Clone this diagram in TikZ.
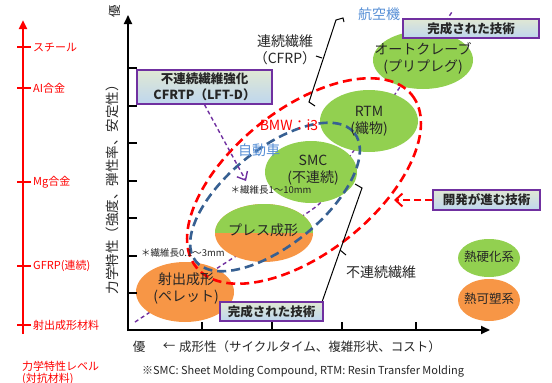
\documentclass[tikz,border=0pt]{standalone}
\usepackage{fontspec}
\setmainfont{Noto Sans CJK JP}
\usetikzlibrary{arrows.meta,shapes.geometric}
\definecolor{tgreen}{RGB}{146,208,80}
\definecolor{torange}{RGB}{247,150,70}
\definecolor{tpurple}{RGB}{112,48,160}
\definecolor{tblue}{RGB}{55,96,146}
\definecolor{lblue}{RGB}{85,142,213}
\definecolor{boxtop}{RGB}{224,232,212}
\definecolor{boxbot}{RGB}{190,214,238}
\definecolor{tred}{RGB}{255,0,0}
\definecolor{ttext}{RGB}{38,38,38}
\tikzset{
  blob/.style={ellipse, inner sep=0pt, draw=none},
  tA/.style={font=\fontsize{14}{17}\selectfont, text=ttext, align=center, inner sep=0pt},
  tB/.style={font=\fontsize{12.5}{15}\selectfont, text=ttext, align=center, inner sep=0pt},
  tS/.style={font=\fontsize{9.5}{11}\selectfont, text=ttext, inner sep=0pt},
  tR/.style={font=\fontsize{11}{13}\selectfont, text=tred, inner sep=0pt, anchor=west},
  techbox/.style={draw=tpurple, line width=1.3pt, top color=boxtop, bottom color=boxbot,
     font=\fontsize{12.5}{16}\bfseries\selectfont, text=ttext, align=center, inner sep=0pt},
  reddash/.style={draw=tred, line width=2.6pt, dash pattern=on 9pt off 5pt},
  bluedash/.style={draw=tblue, line width=2.6pt, dash pattern=on 9pt off 5pt},
  purpdash/.style={draw=tpurple, line width=1.4pt, dash pattern=on 4pt off 3pt},
  axisline/.style={line width=2pt, -{Triangle[length=9pt,width=8pt]}},
  brace/.style={line width=1pt, black},
}
\begin{document}
\begin{tikzpicture}[x=1pt,y=-1pt]
\useasboundingbox (0,0) rectangle (552,383);
% purple progression line (behind)
\draw[purpdash] plot[smooth, tension=0.4] coordinates {(135,322) (233,258) (318,205) (350,156) (393,97) (452,12)};
% solid ellipses
\node[blob, fill=tgreen, minimum width=100pt, minimum height=58pt] (auto) at (423,60) {};
\node[blob, fill=tgreen, minimum width=98pt, minimum height=62pt] (rtm) at (369,121) {};
\node[blob, fill=tgreen, minimum width=92pt, minimum height=62pt] (smc) at (311,172) {};
\node[blob, fill=torange, minimum width=98pt, minimum height=58pt,
  path picture={\fill[tgreen] (path picture bounding box.north west) rectangle (path picture bounding box.east);}] (press) at (264,233) {};
\node[blob, fill=torange, minimum width=98pt, minimum height=60pt] (inj) at (185,292) {};
\node[blob, fill=tgreen, minimum width=62pt, minimum height=38pt] (thermoset) at (489,258) {};
\node[blob, fill=torange, minimum width=62pt, minimum height=42pt] (thermoplastic) at (489,300) {};
% dashed groups
\draw[bluedash, rotate around={39:(275,197)}] (275,197) ellipse [x radius=102, y radius=48];
\draw[reddash, rotate around={38.5:(304,181)}] (304,181) ellipse [x radius=138, y radius=72];
% braces
\draw[brace] (315,106) -- (309,102) -- (336,20) -- (343,18) -- (344,22);
\draw[brace] (322,58) -- (316,56);
\draw[brace] (355,184) -- (362,188) -- (322,302);
\draw[brace] (340,250) -- (346,255);
% red scale
\draw[draw=tred, line width=2.4pt, -{Triangle[length=9pt,width=8pt]}] (23,334) -- (23,20);
\foreach \yy in {47,88,182,266,325} \draw[tred, line width=2pt] (17,\yy) -- (31,\yy);
\node[tR] (l1) at (33,47) {スチール};
\node[tR] (l2) at (33,88) {AI合金};
\node[tR] (l3) at (33,182) {Mg合金};
\node[tR] (l4) at (33,266) {GFRP(連続)};
\node[tR] (l5) at (33,325) {射出成形材料};
\node[tR] (l6) at (22,366) {力学特性レベル};
\node[tR] (l7) at (22,379) {(対抗材料)};
% axes
\draw[axisline] (128,331) -- (128,15);
\draw[axisline] (127,330) -- (490,330);
\foreach \yy in {68,106,143,181,218,256,293} \draw[line width=1.5pt] (128,\yy) -- (137,\yy);
\foreach \xx in {202,272,342,416} \draw[line width=1.5pt] (\xx,330) -- (\xx,322);
\node[tB, rotate=90] (ytop) at (115,11) {優};
\node[tB, rotate=90, font=\fontsize{13.5}{15}\selectfont] (ylab) at (112,186) {力学特性（強度、弾性率、安定性）};
\node[tB] (xbest) at (139,347) {優};
\node[tB] (xarr) at (169,347) {←};
\node[tB, anchor=west] (xlab) at (179,347) {成形性（サイクルタイム、複雑形状、コスト）};
\node[font=\fontsize{11}{13}\selectfont, text=ttext, inner sep=0pt] (foot) at (303,371) {※SMC: Sheet Molding Compound, RTM: Resin Transfer Molding};
% boxes
\node[techbox, minimum width=136pt, minimum height=19pt] (done1) at (471,28.5) {完成された技術};
\node[techbox, minimum width=135pt, minimum height=34pt] (cfrtp) at (204.5,87) {不連続繊維強化\\CFRTP（LFT-D）};
\node[techbox, minimum width=107pt, minimum height=20pt] (dev) at (486.5,200) {開発が進む技術};
\node[techbox, minimum width=103pt, minimum height=19pt] (done2) at (271.5,311.5) {完成された技術};
% arrows
\coordinate (p1) at (246,181);
\draw[purpdash, -{Straight Barb[length=7pt,width=12pt]}] (cfrtp.south) -- (p1);
\coordinate (p2) at (394,200);
\draw[reddash, line width=2pt, dash pattern=on 7pt off 4pt, -{Straight Barb[length=7pt,width=13pt]}] (dev.west) -- (p2);
% ellipse labels
\node[tA] (tauto) at (423,58.5) {オートクレーブ\\(プリプレグ)};
\node[tA] (trtm) at (369,121) {RTM\\(織物)};
\node[tA] (tsmc) at (313,170) {SMC\\(不連続)};
\node[tA] (tpress) at (263,230) {プレス成形};
\node[tA] (tinj) at (186,288) {射出成形\\(ペレット)};
\node[tB] (tset) at (489,257) {熱硬化系};
\node[tB] (tplast) at (489,299) {熱可塑系};
% annotations
\node[tA, text=lblue] (air) at (379,14) {航空機};
\node[tA, text=lblue] (car) at (259,150) {自動車};
\node[tA, text=tred] (bmw) at (289,125) {BMW：i3};
\node[tA] (cont) at (285,50) {連続繊維\\（CFRP）};
\node[tA] (discont) at (381,272) {不連続繊維};
\node[tS] (len1) at (271,190) {＊繊維長1～10mm};
\node[tS] (len2) at (183,253) {＊繊維長0.1～3mm};
\end{tikzpicture}
\end{document}
